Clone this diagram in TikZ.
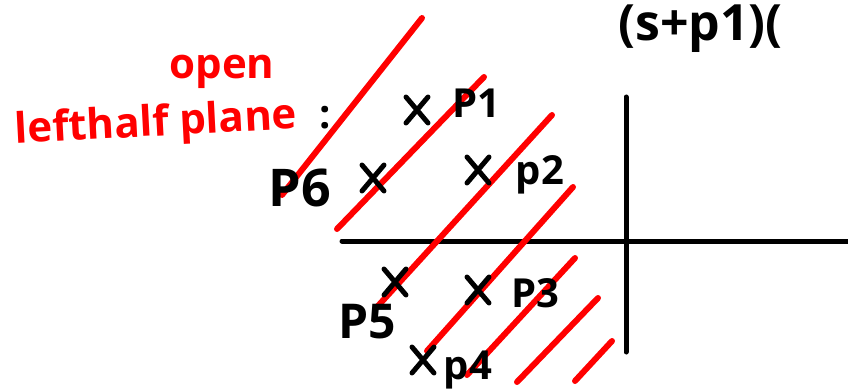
\documentclass[tikz,border=0pt]{standalone}
\usepackage{fontspec}
\setmainfont{Open Sans}
\begin{document}
\begin{tikzpicture}[x=1pt,y=-1pt,
  axis/.style={line width=5pt,black,line cap=round},
  hatch/.style={line width=6pt,red,line cap=round},
  crossmark/.style={line width=5pt,black,line cap=round},
  lbl/.style={font=\bfseries\fontsize{40}{40}\selectfont,text=black,inner sep=0pt},
  redlbl/.style={font=\bfseries\fontsize{42}{42}\selectfont,text=red,inner sep=0pt}]
\useasboundingbox (0,0) rectangle (848,390);
\begin{scope}
\clip (0,0) rectangle (848,390);
% axes
\coordinate (hx0) at (342,241); \coordinate (hx1) at (852,241);
\coordinate (vy0) at (626,97); \coordinate (vy1) at (626,352);
\draw[axis] (hx0) -- (hx1);
\draw[axis] (vy0) -- (vy1);
% hatching
\coordinate (a1) at (282,195); \coordinate (b1) at (422,18);
\coordinate (a2) at (337,229); \coordinate (b2) at (484,77);
\coordinate (a3) at (377,307); \coordinate (b3) at (552,115);
\coordinate (a4) at (427,351); \coordinate (b4) at (573,187);
\coordinate (a5) at (467,375); \coordinate (b5) at (575,258);
\coordinate (a6) at (517,382); \coordinate (b6) at (598,298);
\coordinate (a7) at (575,381); \coordinate (b7) at (612,341);
\draw[hatch] (a1) -- (b1);
\draw[hatch] (a2) -- (b2);
\draw[hatch] (a3) -- (b3);
\draw[hatch] (a4) -- (b4);
\draw[hatch] (a5) -- (b5);
\draw[hatch] (a6) -- (b6);
\draw[hatch] (a7) -- (b7);
% poles (crosses)
\foreach \n/\px/\py in {c1/417/110, c6/373/178, c2/478/170, c5/395/282, c3/478/290, c4/423/360}{
  \coordinate (\n) at (\px,\py);
  \draw[crossmark] ([shift={(-11,-13)}]\n) -- ([shift={(11,13)}]\n);
  \draw[crossmark] ([shift={(11,-13)}]\n) -- ([shift={(-11,13)}]\n);
}
% labels
\node[lbl] (p1) at (476,103) {P1};
\node[lbl,font=\bfseries\fontsize{52}{52}\selectfont] (p6) at (300,188) {P6};
\node[lbl] (p2) at (540,175) {p2};
\node[lbl,font=\bfseries\fontsize{48}{48}\selectfont] (p5) at (367,322) {P5};
\node[lbl] (p3) at (535,293) {P3};
\node[lbl] (p4) at (468,370) {p4};
\node[lbl] (colon) at (325,118) {:};
% red text
\node[redlbl] (open) at (222,72) {open};
\node[redlbl,rotate=3] (lhp) at (156,125) {lefthalf plane};
% top text
\node[lbl,font=\bfseries\fontsize{50}{50}\selectfont,anchor=south west] (top) at (618,53) {(s+p1)(};
\end{scope}
\end{tikzpicture}
\end{document}
